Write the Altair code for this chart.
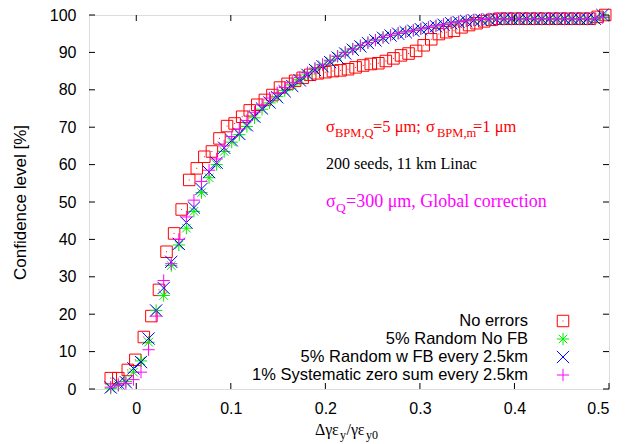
import altair as alt
import pandas as pd

# ---------------- data ----------------
x_vals = [-0.027, -0.019, -0.011, -0.003, 0.005, 0.013, 0.021, 0.029, 0.037, 0.045,
          0.053, 0.061, 0.069, 0.077, 0.085, 0.093, 0.101, 0.109, 0.117, 0.125,
          0.133, 0.141, 0.149, 0.157, 0.165, 0.173, 0.181, 0.189, 0.197, 0.205,
          0.213, 0.221, 0.229, 0.237, 0.245, 0.253, 0.261, 0.269, 0.277, 0.285,
          0.293, 0.301, 0.309, 0.317, 0.325, 0.333, 0.341, 0.349, 0.357, 0.365,
          0.373, 0.381, 0.389, 0.397, 0.405, 0.413, 0.421, 0.429, 0.437, 0.445,
          0.453, 0.461, 0.469, 0.477, 0.485, 0.493]

x_red = [-0.027, -0.019, -0.009, -0.001, 0.008, 0.016, 0.024, 0.032, 0.040, 0.048,
         0.056, 0.064, 0.072, 0.080, 0.088, 0.096, 0.104, 0.112, 0.120, 0.128,
         0.136, 0.144, 0.152, 0.160, 0.168, 0.176, 0.184, 0.192, 0.200, 0.208,
         0.216, 0.224, 0.232, 0.240, 0.248, 0.256, 0.264, 0.272, 0.280, 0.288,
         0.296, 0.304, 0.312, 0.320, 0.328, 0.336, 0.344, 0.352, 0.360, 0.368,
         0.376, 0.384, 0.392, 0.400, 0.408, 0.416, 0.424, 0.432, 0.440, 0.448,
         0.456, 0.464, 0.472, 0.480, 0.488, 0.496]

no_errors = [2.9, 2.9, 5.1, 7.8, 13.9, 19.5, 26.5, 36.7, 41.6, 48.0,
             55.9, 59.0, 62.1, 63.5, 67.0, 70.3, 71.0, 72.8, 74.5, 76.0,
             77.3, 78.6, 80.6, 81.6, 82.4, 83.2, 84.0, 84.4, 84.7, 85.0,
             85.2, 85.5, 86.0, 86.5, 86.9, 87.1, 87.7, 88.4, 89.2, 89.7,
             90.4, 91.9, 93.5, 94.9, 95.4, 95.8, 96.7, 97.3, 97.8, 98.3,
             98.7, 99.0, 99.0, 99.0, 99.0, 99.0, 99.0, 99.0, 99.0, 99.0,
             99.0, 99.0, 99.0, 99.0, 99.5, 100.0]

random_no_fb = [0.2, 1.0, 2.0, 4.5, 7.5, 12.5, 21.0, 25.0, 33.0, 38.5,
                43.0, 47.5, 52.5, 56.5, 60.0, 63.5, 66.0, 68.0, 70.2, 72.5,
                74.8, 76.5, 78.2, 79.8, 81.3, 82.8, 84.2, 85.5, 86.6, 87.7,
                88.9, 90.0, 90.9, 91.8, 92.6, 93.3, 94.0, 94.6, 95.1, 95.5,
                95.9, 96.3, 96.7, 97.1, 97.5, 97.9, 98.2, 98.4, 98.6, 98.7,
                98.8, 98.8, 98.8, 98.8, 98.8, 98.8, 98.8, 98.8, 98.8, 98.8,
                98.8, 98.8, 98.8, 98.8, 98.8, 99.5]

random_fb = [0.4, 1.6, 1.8, 5.5, 7.2, 13.5, 21.0, 27.0, 34.0, 38.8,
             44.5, 48.5, 53.5, 58.0, 60.5, 64.5, 66.5, 68.2, 70.5, 72.8,
             75.0, 76.6, 78.0, 79.6, 81.0, 82.5, 84.0, 85.3, 86.3, 87.4,
             88.6, 89.7, 90.7, 91.6, 92.5, 93.2, 93.9, 94.5, 95.0, 95.4,
             95.8, 96.2, 96.6, 97.0, 97.4, 97.8, 98.1, 98.4, 98.6, 98.7,
             98.8, 98.9, 99.0, 99.0, 99.0, 99.0, 99.0, 99.0, 99.0, 99.0,
             99.0, 99.0, 99.0, 99.0, 99.0, 100.0]

systematic = [0.5, 1.0, 1.5, 2.5, 4.5, 10.5, 19.5, 29.0, 33.5, 40.0,
              46.0, 50.5, 55.5, 58.5, 61.5, 65.0, 67.5, 69.5, 71.8, 74.0,
              76.0, 77.8, 79.2, 80.6, 82.0, 83.3, 84.6, 85.8, 86.8, 87.9,
              89.0, 90.0, 90.9, 91.8, 92.6, 93.3, 94.0, 94.6, 95.1, 95.5,
              95.9, 96.3, 96.7, 97.1, 97.5, 97.9, 98.2, 98.5, 98.7, 98.8,
              99.0, 99.0, 99.0, 99.0, 99.0, 99.0, 99.0, 99.0, 99.0, 99.0,
              99.0, 99.0, 99.0, 99.0, 99.0, 99.3]

series_names = ["No errors", "5% Random No FB", "5% Random w FB every 2.5km",
                "1% Systematic zero sum every 2.5km"]
x_ticks = [0, 0.1, 0.2, 0.3, 0.4, 0.5]
y_ticks = [0, 10, 20, 30, 40, 50, 60, 70, 80, 90, 100]

# ---------------- style ----------------
W, H = 520, 374
SANS = "Liberation Sans"
SERIF = "Liberation Serif"
colors = ["#ff0000", "#00ee00", "#0000ff", "#ff00ff"]
shapes = [
    "M-1,-1L1,-1L1,1L-1,1Z M-0.08,0L0.08,0",
    "M-1,0L1,0M0,-1L0,1M-0.7,-0.7L0.7,0.7M-0.7,0.7L0.7,-0.7",
    "M-1,-1L1,1M-1,1L1,-1",
    "M-1,0L1,0M0,-1L0,1",
]
sizes = [132, 150, 150, 150]

xscale = alt.Scale(domain=[-0.05, 0.5], nice=False, zero=False)
yscale = alt.Scale(domain=[0, 100], nice=False, zero=True)

xaxis = alt.Axis(values=x_ticks, format="~g", title=None, domain=False, ticks=False,
                 tickSize=0, grid=False, labelFont=SANS, labelFontSize=16,
                 labelColor="#000", labelPadding=11)
yaxis = alt.Axis(values=y_ticks, format="d", title="Confidence level [%]", domain=False,
                 ticks=False, tickSize=0, grid=False, labelFont=SANS, labelFontSize=16,
                 labelColor="#000", labelPadding=13, titleFont=SANS, titleFontSize=17,
                 titleFontWeight="normal", titleColor="#000", titlePadding=20)

all_x = [x_red, x_vals, x_vals, x_vals]
all_y = [no_errors, random_no_fb, random_fb, systematic]
layers = []
for k in range(4):
    df = pd.DataFrame({"x": all_x[k], "y": all_y[k]})
    ch = alt.Chart(df).mark_point(shape=shapes[k], filled=False, strokeWidth=1,
                                  size=sizes[k], color=colors[k], opacity=1).encode(
        x=alt.X("x:Q", scale=xscale, axis=xaxis),
        y=alt.Y("y:Q", scale=yscale, axis=yaxis),
    )
    layers.append(ch)

# inward ticks on all four sides
xt = pd.DataFrame({"x": x_ticks})
yt = pd.DataFrame({"y": y_ticks})
tick_style = dict(color="#000", strokeWidth=1)
ticks_bottom = alt.Chart(xt).mark_rule(**tick_style).encode(
    x=alt.X("x:Q", scale=xscale, axis=xaxis), y=alt.value(H), y2=alt.value(H - 6))
ticks_top = alt.Chart(xt).mark_rule(**tick_style).encode(
    x=alt.X("x:Q", scale=xscale, axis=xaxis), y=alt.value(0), y2=alt.value(6))
ticks_left = alt.Chart(yt).mark_rule(**tick_style).encode(
    y=alt.Y("y:Q", scale=yscale, axis=yaxis), x=alt.value(0), x2=alt.value(6))
ticks_right = alt.Chart(yt).mark_rule(**tick_style).encode(
    y=alt.Y("y:Q", scale=yscale, axis=yaxis), x=alt.value(W), x2=alt.value(W - 6))
layers += [ticks_bottom, ticks_top, ticks_left, ticks_right]


def txt(s, px, py, size, color="#000", font=SERIF, align="left", baseline="alphabetic"):
    return alt.Chart(pd.DataFrame({"t": [s]})).mark_text(
        font=font, fontSize=size, color=color, align=align, baseline=baseline).encode(
        text="t:N", x=alt.value(px), y=alt.value(py))


# legend (gnuplot style: text right-aligned, symbol on the right)
leg_rows = [306, 324, 342, 360]
for k in range(4):
    layers.append(txt(series_names[k], 439, leg_rows[k], 16.5, "#000", SANS, "right", "middle"))
    layers.append(alt.Chart(pd.DataFrame({"a": [0]})).mark_point(
        shape=shapes[k], filled=False, strokeWidth=1, size=sizes[k], color=colors[k],
        opacity=1).encode(x=alt.value(474), y=alt.value(leg_rows[k])))

# annotations
red = "#ff0000"
mag = "#ff00ff"
layers += [
    txt("σ", 237, 116.5, 16.5, red),
    txt("BPM,Q", 246, 122, 12.5, red),
    txt("=5 μm;", 284, 116.5, 16.5, red),
    txt("σ", 337, 116.5, 16.5, red),
    txt("BPM,m", 348, 122, 12.5, red),
    txt("=1 μm", 384, 116.5, 16.5, red),
    txt("200 seeds, 11 km Linac", 237, 154, 16, "#000"),
    txt("σ", 237, 191.5, 18, mag),
    txt("Q", 247, 197, 13.5, mag),
    txt("=300 μm, Global correction", 257, 191.5, 18, mag),
    # x-axis title  Δγε_y/γε_y0
    txt("Δγε", 226, 420, 16),
    txt("y", 251, 423.5, 12),
    txt("/γε", 257.5, 420, 16),
    txt("y0", 277, 423.5, 12),
]

chart = alt.layer(*layers).properties(
    width=W, height=H,
    autosize=alt.AutoSizeParams(type="none"),
    padding={"left": 81, "top": 7, "right": 8, "bottom": 54},
).configure_view(stroke="#000", strokeWidth=1.5).configure(background="white")

chart.save("out.html", embed_options={"renderer": "svg", "actions": False})
